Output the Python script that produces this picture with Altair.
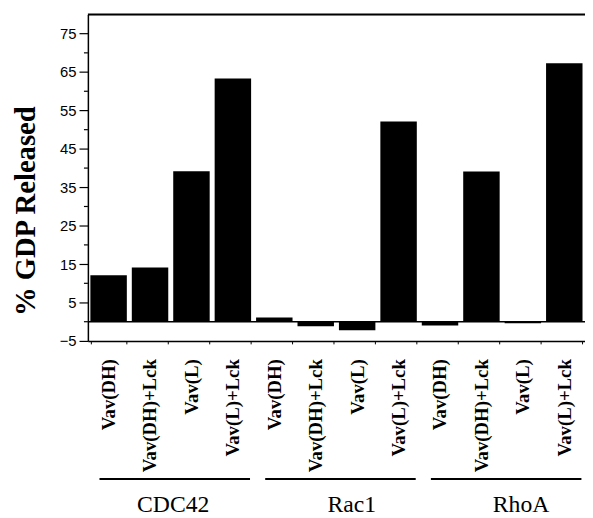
import altair as alt
import pandas as pd

groups = ["CDC42", "Rac1", "RhoA"]
conditions = ["Vav(DH)", "Vav(DH)+Lck", "Vav(L)", "Vav(L)+Lck"]
values = [12.1, 14.1, 39.2, 63.3,
          1.1, -1.2, -2.2, 52.1,
          -1.0, 39.1, -0.4, 67.3]
major_ticks = [-5, 5, 15, 25, 35, 45, 55, 65, 75]
minor_ticks = [0, 10, 20, 30, 40, 50, 60, 70]

keys = [f"{g}|{c}" for g in groups for c in conditions]
df = pd.DataFrame({"key": keys, "value": values})

W, H = 504, 331
SERIF = "Liberation Serif"
SANS = "Liberation Sans"

xscale = alt.Scale(domain=keys, paddingInner=0.12, paddingOuter=0.06)
yscale = alt.Scale(domain=[-5, 80], nice=False, zero=False)

xaxis = alt.Axis(
    title=None, labelAngle=-90, labelExpr="split(datum.label, '|')[1]",
    labelFont=SERIF, labelFontWeight="bold", labelFontSize=19, labelColor="black",
    labelPadding=15, tickBand="extent", tickSize=3, tickColor="black",
    domainColor="black", domainWidth=1.5, grid=False, labelAlign="right",
    labelBaseline="middle",
)
yaxis = alt.Axis(
    title="% GDP Released", values=major_ticks, labelFont=SANS, labelFontSize=15,
    labelColor="black", tickSize=9, tickColor="black", tickWidth=1.2,
    domainColor="black", domainWidth=1.5, grid=False, labelPadding=3,
    titleFont=SERIF, titleFontWeight="bold", titleFontSize=29, titleColor="black",
    titleAngle=-90, titleX=-63, titleY=199, titleAlign="center", titleBaseline="middle",
)

bars = alt.Chart(df).mark_bar(color="black").encode(
    x=alt.X("key:N", scale=xscale, axis=xaxis, sort=keys),
    y=alt.Y("value:Q", scale=yscale, axis=yaxis),
)

zero_line = alt.Chart(pd.DataFrame({"v": [0]})).mark_rule(color="black", strokeWidth=1.5).encode(
    y=alt.Y("v:Q", scale=yscale, axis=yaxis), x=alt.value(0), x2=alt.value(W)
)
top_line = alt.Chart(pd.DataFrame({"v": [80]})).mark_rule(color="black", strokeWidth=2).encode(
    y=alt.Y("v:Q", scale=yscale, axis=yaxis), x=alt.value(0), x2=alt.value(W)
)
minor = alt.Chart(pd.DataFrame({"v": minor_ticks})).mark_rule(color="black", strokeWidth=1.2).encode(
    y=alt.Y("v:Q", scale=yscale, axis=yaxis), x=alt.value(-4), x2=alt.value(0)
)

grp_df = pd.DataFrame({
    "group": groups,
    "first": [f"{g}|{conditions[0]}" for g in groups],
    "last": [f"{g}|{conditions[-1]}" for g in groups],
})
grp_lines = alt.Chart(grp_df).mark_rule(color="black", strokeWidth=2.2).encode(
    x=alt.X("first:N", scale=xscale, bandPosition=0.25, axis=xaxis, sort=keys),
    x2=alt.X2("last:N", bandPosition=0.97),
    y=alt.value(H + 140),
)

label_layers = []
anchors = [(2, 0.0), (2, 0.35), (2, 0.45)]
for g, (ci, bp) in zip(groups, anchors):
    d = pd.DataFrame({"group": [g], "anchor": [f"{g}|{conditions[ci]}"]})
    label_layers.append(
        alt.Chart(d).mark_text(font=SERIF, fontSize=24, color="black", baseline="alphabetic").encode(
            x=alt.X("anchor:N", scale=xscale, bandPosition=bp, axis=xaxis, sort=keys),
            y=alt.value(H + 173),
            text="group:N",
        )
    )

chart = alt.layer(bars, zero_line, top_line, minor, grp_lines, *label_layers).properties(
    width=W, height=H,
    autosize=alt.AutoSizeParams(type="none"),
    padding={"left": 81, "top": 3, "right": 0, "bottom": 176},
).configure_view(stroke=None).configure(background="white")

chart.save("out.html", embed_options={"renderer": "svg", "actions": False})
